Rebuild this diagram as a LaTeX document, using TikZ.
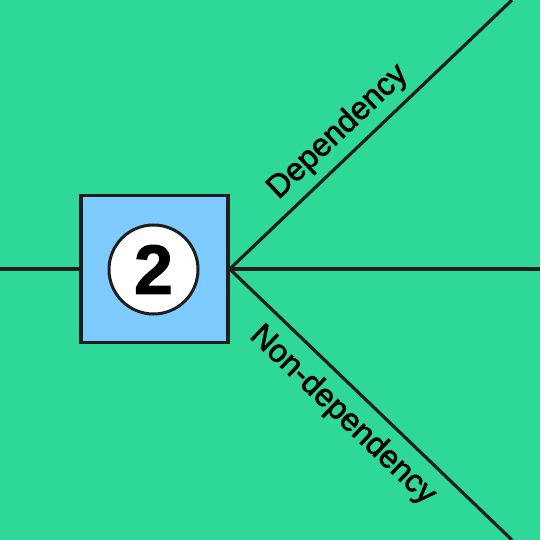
\documentclass[tikz,border=0pt]{standalone}
\usepackage{fontspec}
\setmainfont{Liberation Sans}
\newfontfamily\lblfont[FakeBold=2]{Liberation Sans}
\newfontfamily\numfont[FakeBold=1.5]{Liberation Sans}
\definecolor{bggreen}{HTML}{2ED897}
\definecolor{boxblue}{HTML}{7DCBFF}
\definecolor{ink}{HTML}{1E1E1E}
\begin{document}
\begin{tikzpicture}[x=1pt,y=-1pt,
  conn/.style={draw=ink,line width=3.2pt},
  stepbox/.style={draw=ink,line width=3.4pt,fill=boxblue,minimum width=147pt,minimum height=147pt,inner sep=0pt},
  numcircle/.style={circle,draw=ink,line width=3pt,fill=white,minimum size=89pt,inner sep=0pt,font=\numfont\fontsize{70}{70}\selectfont\bfseries},
  lbl/.style={inner sep=0pt,anchor=base west,font=\lblfont\fontsize{32}{32}\selectfont,text=black}]
\fill[bggreen] (0,0) rectangle (540,540);
\useasboundingbox (0,0) rectangle (540,540);
\coordinate (L) at (0,269);
\coordinate (TR) at (512,0);
\coordinate (R) at (540,269);
\coordinate (BR) at (512,540);
\node[stepbox] (box) at (154.5,269) {};
\node[numcircle] (num) at (153.5,269.5) {2};
\draw[conn] (L) -- (box.west);
\draw[conn,line join=round] (TR) -- (box.east) -- (BR);
\draw[conn] (box.east) -- (R);
\node[lbl,rotate=43.45] (dep) at (278.4,200) {Dependency};
\node[lbl,rotate=-43.66] (nondep) at (248.6,337.1) {Non-dependency};
\end{tikzpicture}
\end{document}
